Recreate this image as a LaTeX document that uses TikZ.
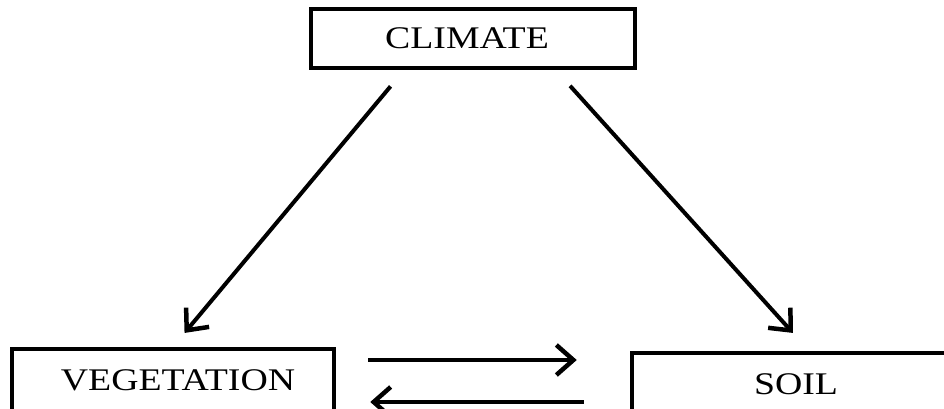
\documentclass[tikz,border=0pt]{standalone}
\usepackage{fontspec}
\setmainfont{Liberation Serif}[FakeStretch=1.2]
\usetikzlibrary{arrows.meta}
\tikzset{
	factor/.style={draw, line width=4.5pt, inner sep=0pt, font=\fontsize{31.5}{36}\selectfont},
	link/.style={line width=4pt, -{Straight Barb[length=17pt, width=30pt, line width=4.5pt]}}
}

\begin{document}
\begin{tikzpicture}[x=1pt, y=1pt]
		%%%%% START %%%%%
		\clip (0, 0) rectangle (944, 409);
		
		\node[factor, minimum width=324pt, minimum height=59pt] (climate) at (473, 370.5) {CLIMATE\kern12pt};
		\node[factor, minimum width=322pt, minimum height=62pt] (veg) at (173, 29) {\kern10pt VEGETATION};
		\node[factor, minimum width=328pt, minimum height=62pt] (soil) at (796, 25) {SOIL};
		
		\draw[link, shorten <=21pt, shorten >=18pt] ([xshift=-69pt]climate.south) -- (veg.north);
		\draw[link, shorten <=21pt, shorten >=24pt] ([xshift=83pt]climate.south) -- ([xshift=13pt]soil.north);
		
		\draw[link, shorten <=32pt, shorten >=53pt] ([yshift=20pt]veg.east) -- ([yshift=20pt]veg.east -| soil.west);
		\draw[link, shorten <=46pt, shorten >=34pt] ([yshift=-22pt]veg.east -| soil.west) -- ([yshift=-22pt]veg.east);
		
		%%%%% END %%%%%
	\end{tikzpicture}
\end{document}
